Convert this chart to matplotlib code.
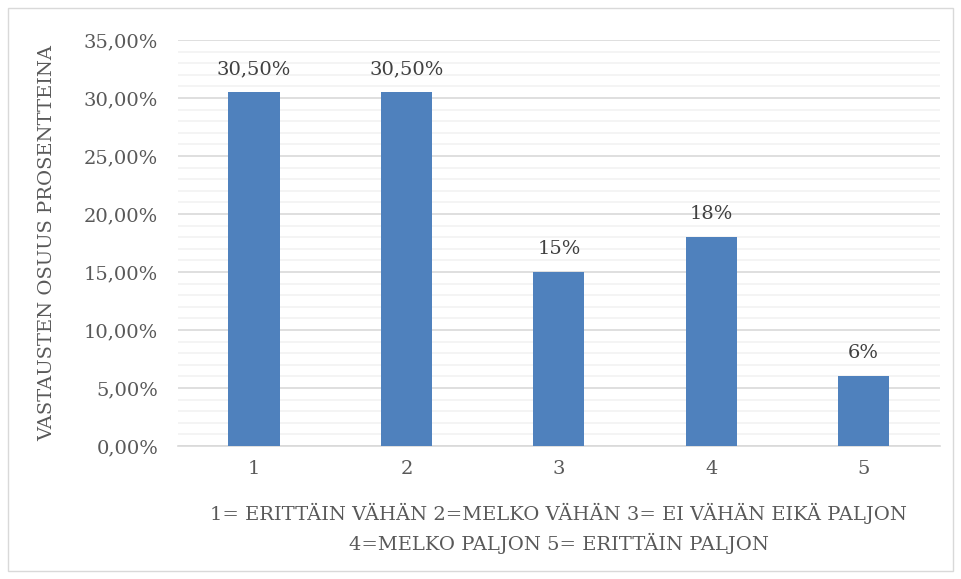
import numpy as np
import matplotlib.pyplot as plt
from matplotlib.patches import Rectangle
from matplotlib.ticker import MultipleLocator, FuncFormatter

# answer categories and share of responses (%)
categories = ['1', '2', '3', '4', '5']
shares = [30.5, 30.5, 15, 18, 6]
value_labels = ['30,50%', '30,50%', '15%', '18%', '6%']
xlabel_text = '1= ERITTÄIN VÄHÄN 2=MELKO VÄHÄN 3= EI VÄHÄN EIKÄ PALJON\n4=MELKO PALJON 5= ERITTÄIN PALJON'
ylabel_text = 'VASTAUSTEN OSUUS PROSENTTEINA'

plt.rcParams['font.family'] = 'DejaVu Serif'
text_color = '#595959'

fig = plt.figure(figsize=(9.61, 5.79), dpi=100)
# light chart border
fig.patches.append(Rectangle((8 / 961, 8 / 579), 945 / 961, 563 / 579, transform=fig.transFigure,
                             fill=False, edgecolor='#D9D9D9', linewidth=1))
ax = fig.add_axes([0.185, 0.2297, 0.793, 0.7013])

x = np.arange(len(categories))
ax.bar(x, shares, width=0.335, color='#4F81BD', zorder=3)
for xi, v, lab in zip(x, shares, value_labels):
    ax.text(xi, v + 1.2, lab, ha='center', va='bottom', fontsize=14, color='#404040')

ax.set_xlim(-0.5, 4.5)
ax.set_ylim(0, 35)
ax.yaxis.set_major_locator(MultipleLocator(5))
ax.yaxis.set_minor_locator(MultipleLocator(1))
ax.yaxis.set_major_formatter(FuncFormatter(lambda v, p: f'{v:.2f}%'.replace('.', ',')))
ax.grid(axis='y', which='major', color='#D9D9D9', linewidth=1.2, zorder=0)
ax.grid(axis='y', which='minor', color='#F2F2F2', linewidth=1.2, zorder=0)
ax.set_axisbelow(True)
ax.set_xticks(x)
ax.set_xticklabels(categories)
ax.tick_params(axis='both', which='both', length=0, labelsize=14, colors=text_color)
ax.tick_params(axis='y', pad=14)
ax.tick_params(axis='x', pad=10)
for s in ['top', 'right', 'left']:
    ax.spines[s].set_visible(False)
ax.spines['bottom'].set_color('#D9D9D9')
ax.spines['bottom'].set_linewidth(1.2)

ax.set_xlabel(xlabel_text, fontsize=14, color=text_color, labelpad=18, linespacing=1.5)
ax.set_ylabel(ylabel_text, fontsize=14, color=text_color, labelpad=20)

fig.savefig('out.png', dpi=100)
